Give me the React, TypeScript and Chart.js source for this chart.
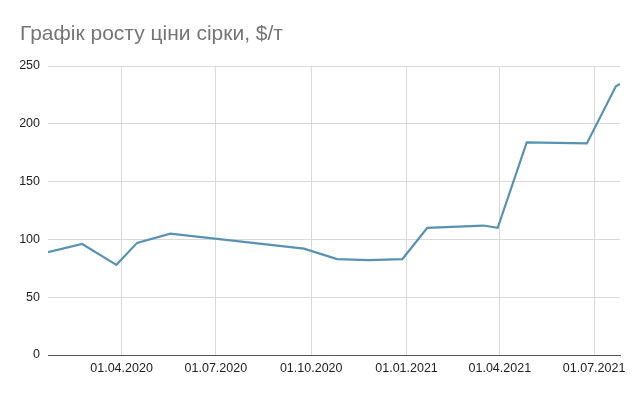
import React, { useEffect, useRef } from "react";
import { Chart, registerables } from "chart.js";

Chart.register(...registerables);

const title = "Графік росту ціни сірки, $/т";

const dates = [
  "2020-01-21",
  "2020-02-23",
  "2020-03-27",
  "2020-04-16",
  "2020-05-18",
  "2020-09-24",
  "2020-10-26",
  "2020-11-26",
  "2020-12-28",
  "2021-01-21",
  "2021-03-16",
  "2021-03-30",
  "2021-04-27",
  "2021-06-24",
  "2021-07-22",
  "2021-07-26",
];

const prices = [89, 96, 78, 97, 105, 92, 83, 82, 83, 110, 112, 110, 184, 183, 232.5, 234.5];

const tickDates = ["2020-04-01", "2020-07-01", "2020-10-01", "2021-01-01", "2021-04-01", "2021-07-01"];
const tickLabels = ["01.04.2020", "01.07.2020", "01.10.2020", "01.01.2021", "01.04.2021", "01.07.2021"];

const xMinDate = "2020-01-21";
const xMaxDate = "2021-07-26";

const yTicks = [0, 50, 100, 150, 200, 250];

const toMs = (s: string) => Date.parse(s + "T00:00:00Z");

export default function App() {
  const ref = useRef<HTMLCanvasElement | null>(null);

  useEffect(() => {
    if (!ref.current) return;
    const tickVals = tickDates.map(toMs);
    const chart = new Chart(ref.current, {
      type: "line",
      data: {
        datasets: [
          {
            data: dates.map((d, i) => ({ x: toMs(d), y: prices[i] })),
            borderColor: "#5793b0",
            borderWidth: 2.2,
            pointRadius: 0,
            tension: 0,
            fill: false,
          },
        ],
      },
      options: {
        animation: false,
        responsive: false,
        maintainAspectRatio: false,
        layout: { padding: { left: 20, right: 20, top: 0, bottom: 0 } },
        plugins: {
          legend: { display: false },
          tooltip: { enabled: false },
          title: {
            display: true,
            text: title,
            align: "start",
            color: "#757575",
            font: { family: "Arial, 'Liberation Sans', sans-serif", size: 21, weight: "normal", lineHeight: 1.2 },
            padding: { top: 21.5, bottom: 19.3 },
          },
        },
        scales: {
          x: {
            type: "linear",
            min: toMs(xMinDate),
            max: toMs(xMaxDate),
            afterBuildTicks: (scale: any) => {
              scale.ticks = tickVals.map((v) => ({ value: v }));
            },
            afterFit: (scale: any) => {
              scale.height = 41;
            },
            ticks: {
              autoSkip: false,
              maxRotation: 0,
              padding: 6,
              color: "#222",
              font: { family: "Arial, 'Liberation Sans', sans-serif", size: 12.5 },
              callback: (_v: any, i: number) => tickLabels[i],
            },
            grid: { color: "#d9d9d9", drawTicks: false, lineWidth: 1 },
            border: { display: true, color: "#555", width: 1 },
          },
          y: {
            min: 0,
            max: 250,
            afterBuildTicks: (scale: any) => {
              scale.ticks = yTicks.map((v) => ({ value: v }));
            },
            afterFit: (scale: any) => {
              scale.width = 28;
            },
            ticks: {
              padding: 8,
              color: "#222",
              font: { family: "Arial, 'Liberation Sans', sans-serif", size: 12.5 },
            },
            grid: {
              color: (ctx: any) => (ctx.tick && ctx.tick.value === 0 ? "rgba(0,0,0,0)" : "#d9d9d9"),
              drawTicks: false,
              lineWidth: 1,
            },
            border: { display: false },
          },
        },
      },
    });
    return () => chart.destroy();
  }, []);

  return (
    <div style={{ position: "fixed", left: 0, top: 0, width: 640, height: 396, background: "#fff" }}>
      <canvas ref={ref} width={640} height={396} style={{ width: 640, height: 396 }} />
    </div>
  );
}
